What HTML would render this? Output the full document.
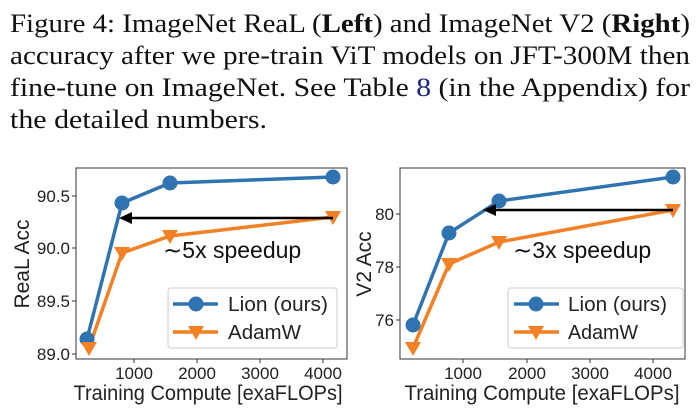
<!DOCTYPE html>
<html><head><meta charset="utf-8"><style>
html,body{margin:0;padding:0;background:#fff;width:700px;height:420px;overflow:hidden}
</style></head><body>
<svg width="700" height="420" xmlns="http://www.w3.org/2000/svg">
<g font-family="Liberation Serif, serif" font-size="26" fill="#111">
<text x="10" y="32" textLength="680" lengthAdjust="spacingAndGlyphs">Figure 4: ImageNet ReaL (<tspan font-weight="bold">Left</tspan>) and ImageNet V2 (<tspan font-weight="bold">Right</tspan>)</text>
<text x="10" y="64" textLength="680" lengthAdjust="spacingAndGlyphs">accuracy after we pre-train ViT models on JFT-300M then</text>
<text x="10" y="96" textLength="680" lengthAdjust="spacingAndGlyphs">fine-tune on ImageNet. See Table <tspan fill="#1a237e">8</tspan> (in the Appendix) for</text>
<text x="10" y="128" textLength="257" lengthAdjust="spacingAndGlyphs">the detailed numbers.</text>
</g>
<g font-family="Liberation Sans, sans-serif" fill="#222">
<!-- LEFT -->
<rect x="76" y="168" width="271" height="191" fill="none" stroke="#333" stroke-width="1"/>
<g font-size="17" text-anchor="end">
<text x="70" y="202">90.5</text><text x="70" y="254">90.0</text><text x="70" y="307">89.5</text><text x="70" y="360">89.0</text>
</g>
<g stroke="#333"><line x1="72" x2="76" y1="196" y2="196"/><line x1="72" x2="76" y1="248" y2="248"/><line x1="72" x2="76" y1="301" y2="301"/><line x1="72" x2="76" y1="354" y2="354"/>
<line x1="134" x2="134" y1="359" y2="363"/><line x1="197" x2="197" y1="359" y2="363"/><line x1="260" x2="260" y1="359" y2="363"/><line x1="323" x2="323" y1="359" y2="363"/></g>
<g font-size="17" text-anchor="middle"><text x="134" y="379">1000</text><text x="197" y="379">2000</text><text x="260" y="379">3000</text><text x="323" y="379">4000</text></g>
<text x="208" y="400" font-size="21" text-anchor="middle" textLength="269" lengthAdjust="spacingAndGlyphs">Training Compute [exaFLOPs]</text>
<text transform="translate(29,264) rotate(-90)" font-size="21" text-anchor="middle">ReaL Acc</text>
<polyline points="87,339 122,203 170,183 333,177" fill="none" stroke="#2f73b0" stroke-width="3.5"/>
<polyline points="89,348 122,253 170,236 333,217" fill="none" stroke="#f28024" stroke-width="3.5"/>
<g fill="#2f73b0"><circle cx="87" cy="339" r="7.5"/><circle cx="122" cy="203" r="7.5"/><circle cx="170" cy="183" r="7.5"/><circle cx="333" cy="177" r="7.5"/></g>
<g fill="#f28024"><path d="M81,342 L97,342 L89,356Z"/><path d="M114,247 L130,247 L122,261Z"/><path d="M162,230 L178,230 L170,244Z"/><path d="M325,211 L341,211 L333,225Z"/></g>
<line x1="333" y1="218" x2="128" y2="218" stroke="#000" stroke-width="2.5"/>
<path d="M119,218 L132,212 L132,224Z" fill="#000"/>
<text x="163" y="258" font-size="23" fill="#111">∼5x speedup</text>
<rect x="168" y="288" width="169" height="60" rx="3" fill="#fff" stroke="#ccc"/>
<line x1="173" x2="218" y1="304" y2="304" stroke="#2f73b0" stroke-width="3.5"/><circle cx="196" cy="304" r="7.5" fill="#2f73b0"/>
<line x1="173" x2="218" y1="332" y2="332" stroke="#f28024" stroke-width="3.5"/><path d="M188,326 L204,326 L196,340Z" fill="#f28024"/>
<text x="228" y="311" font-size="20" textLength="100" lengthAdjust="spacingAndGlyphs">Lion (ours)</text><text x="228" y="339" font-size="20" textLength="73" lengthAdjust="spacingAndGlyphs">AdamW</text>

<!-- RIGHT -->
<rect x="400" y="168" width="285" height="191" fill="none" stroke="#333" stroke-width="1"/>
<g font-size="17" text-anchor="end"><text x="394" y="220">80</text><text x="394" y="273">78</text><text x="394" y="326">76</text></g>
<g stroke="#333"><line x1="396" x2="400" y1="214" y2="214"/><line x1="396" x2="400" y1="267" y2="267"/><line x1="396" x2="400" y1="320" y2="320"/>
<line x1="463" x2="463" y1="359" y2="363"/><line x1="527" x2="527" y1="359" y2="363"/><line x1="590" x2="590" y1="359" y2="363"/><line x1="653" x2="653" y1="359" y2="363"/></g>
<g font-size="17" text-anchor="middle"><text x="463" y="379">1000</text><text x="527" y="379">2000</text><text x="590" y="379">3000</text><text x="653" y="379">4000</text></g>
<text x="542" y="400" font-size="21" text-anchor="middle" textLength="275" lengthAdjust="spacingAndGlyphs">Training Compute [exaFLOPs]</text>
<text transform="translate(371,264) rotate(-90)" font-size="21" text-anchor="middle">V2 Acc</text>
<polyline points="413,325 449,233 499,201 673,177" fill="none" stroke="#2f73b0" stroke-width="3.5"/>
<polyline points="413,348 449,264 499,242 673,210" fill="none" stroke="#f28024" stroke-width="3.5"/>
<g fill="#2f73b0"><circle cx="413" cy="325" r="7.5"/><circle cx="449" cy="233" r="7.5"/><circle cx="499" cy="201" r="7.5"/><circle cx="673" cy="177" r="7.5"/></g>
<g fill="#f28024"><path d="M405,342 L421,342 L413,356Z"/><path d="M441,258 L457,258 L449,272Z"/><path d="M491,236 L507,236 L499,250Z"/><path d="M665,204 L681,204 L673,218Z"/></g>
<line x1="673" y1="210" x2="492" y2="210" stroke="#000" stroke-width="2.5"/>
<path d="M483,210 L496,204 L496,216Z" fill="#000"/>
<text x="513" y="258" font-size="23" fill="#111">∼3x speedup</text>
<rect x="508" y="288" width="175" height="60" rx="3" fill="#fff" stroke="#ccc"/>
<line x1="514" x2="559" y1="304" y2="304" stroke="#2f73b0" stroke-width="3.5"/><circle cx="536" cy="304" r="7.5" fill="#2f73b0"/>
<line x1="514" x2="559" y1="332" y2="332" stroke="#f28024" stroke-width="3.5"/><path d="M528,326 L544,326 L536,340Z" fill="#f28024"/>
<text x="568" y="311" font-size="20" textLength="99" lengthAdjust="spacingAndGlyphs">Lion (ours)</text><text x="568" y="339" font-size="20" textLength="70" lengthAdjust="spacingAndGlyphs">AdamW</text>
</g>
</svg>
</body></html>
